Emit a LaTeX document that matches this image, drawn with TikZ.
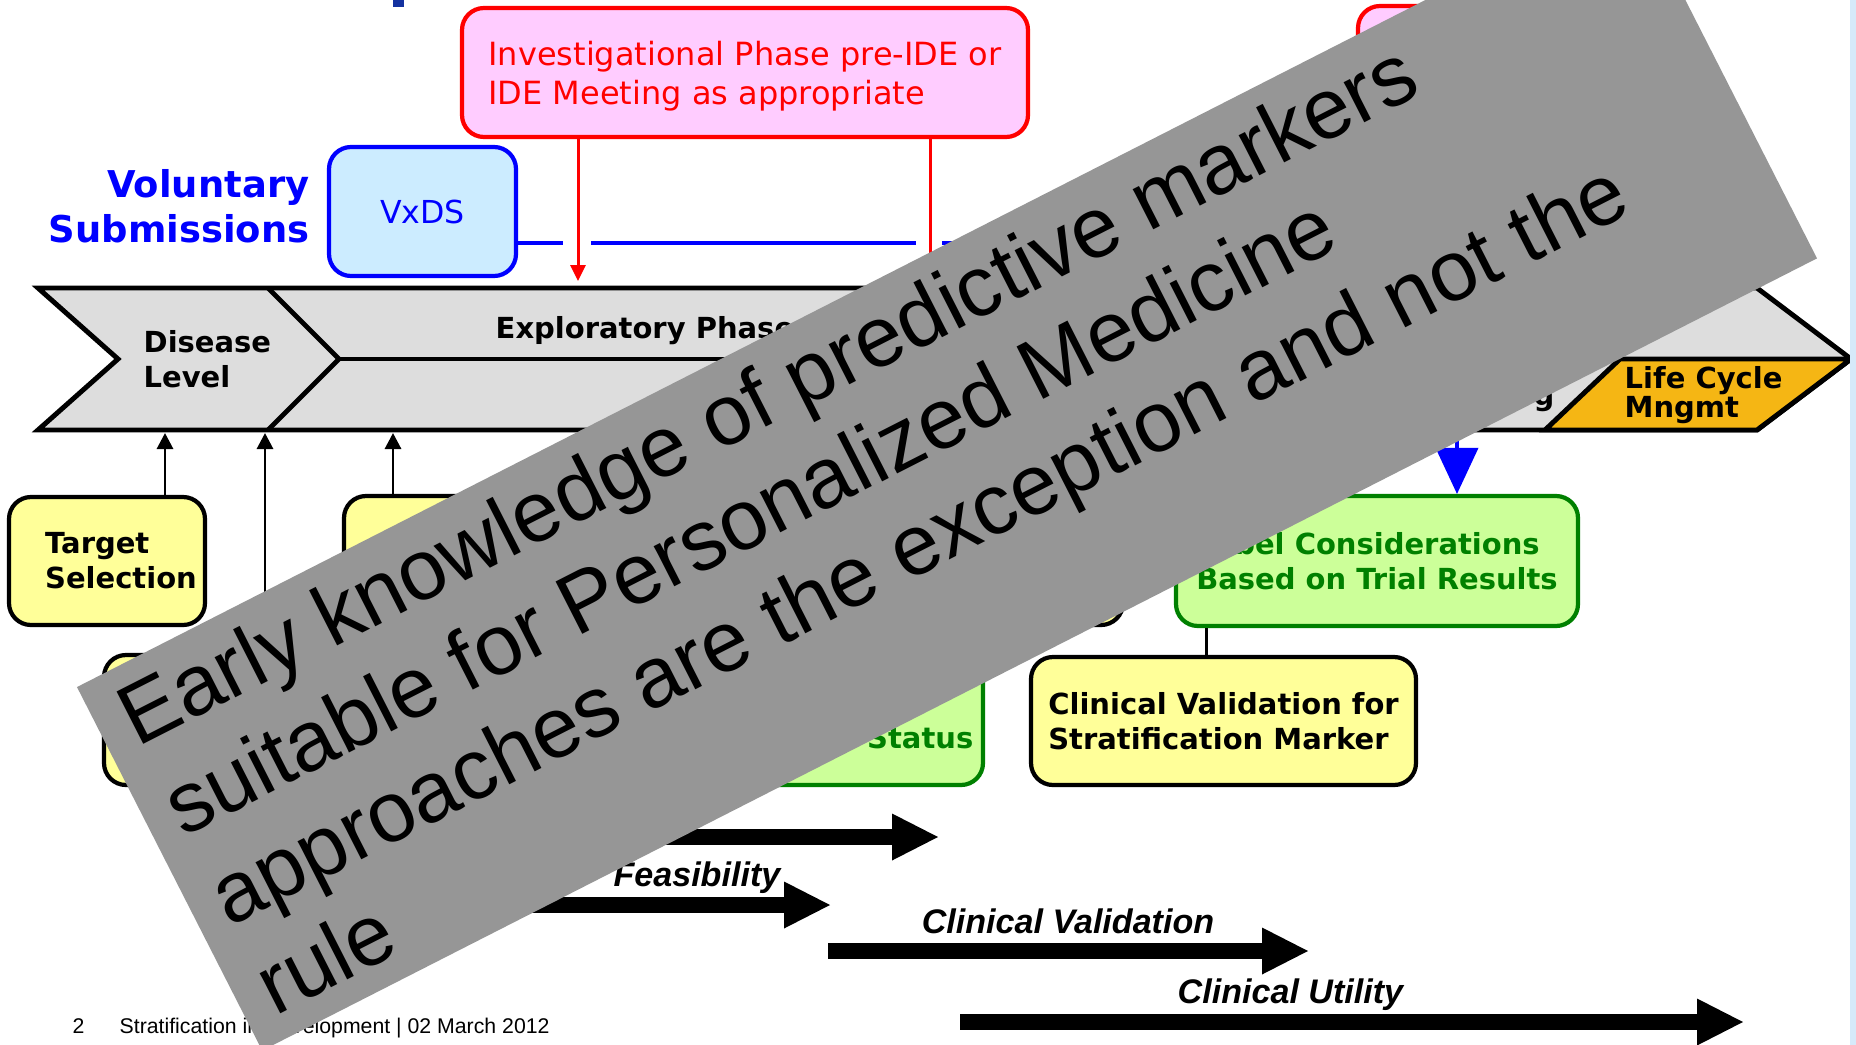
\documentclass[tikz,border=0pt]{standalone}
\usepackage{fontspec}
\setmainfont{DejaVu Sans}
\newfontfamily\arialfont{Liberation Sans}
\usepackage{tikz}
\usetikzlibrary{arrows.meta, positioning, calc}
\definecolor{bandgray}{RGB}{221,221,221}
\definecolor{lifecycle}{RGB}{245,182,20}
\definecolor{noteyellow}{RGB}{255,255,153}
\definecolor{notegreen}{RGB}{204,255,153}
\definecolor{darkgreen}{RGB}{0,128,0}
\definecolor{notepink}{RGB}{255,204,255}
\definecolor{noteblue}{RGB}{204,236,255}
\definecolor{bannergray}{RGB}{150,150,150}
\definecolor{titleblue}{RGB}{20,50,160}
\definecolor{edgeblue}{RGB}{214,234,250}

\begin{document}
\begin{tikzpicture}[
    every node/.style={align=center},
    notebox/.style={draw, rounded corners=0.22cm, line width=1.2pt, inner sep=0pt},
    yellowbox/.style={notebox, fill=noteyellow, font=\bfseries\fontsize{8.25}{9.9}\selectfont},
    greenbox/.style={notebox, draw=darkgreen, fill=notegreen, text=darkgreen, font=\bfseries\fontsize{8.25}{9.9}\selectfont},
    redbox/.style={notebox, draw=red, fill=notepink, text=red, font=\fontsize{9.1}{11.1}\selectfont},
    bandtext/.style={font=\bfseries\fontsize{8.25}{9.9}\selectfont, align=left, inner sep=0pt},
    uparrow/.style={line width=0.85pt, -{Triangle[width=1.6mm, length=1.6mm]}},
    redarrow/.style={red, line width=0.85pt, -{Triangle[width=1.5mm, length=1.6mm]}},
    blockarrow/.style={line width=1.65mm, -{Triangle[width=4.7mm, length=4.6mm, line width=0pt]}},
    phaselabel/.style={font=\arialfont\bfseries\itshape\fontsize{9.7}{11}\selectfont, inner sep=0pt}
]
    \useasboundingbox (0,0) rectangle (18.56,-10.45);
    \clip (0,0) rectangle (18.56,-10.45);

    % Title remnant
    \fill[titleblue] (3.93,0) rectangle (4.04,-0.07);

    % Phase band
    \coordinate (bandtop) at (0,-2.81);
    \coordinate (bandbot) at (0,-4.33);
    \filldraw[fill=bandgray, line width=1.4pt] (0.38,-2.88) -- (17.57,-2.88) -- (18.51,-3.59)
        -- (17.57,-4.30) -- (0.38,-4.30) -- (1.18,-3.59) -- cycle;
    \draw[line width=1.4pt] (2.68,-2.88) -- (3.39,-3.59) -- (2.68,-4.30);
    \draw[line width=1.4pt] (3.39,-3.59) -- (16.20,-3.59);
    \filldraw[fill=lifecycle, line width=1.4pt] (15.45,-4.30) -- (16.20,-3.59) -- (18.51,-3.59) -- (17.57,-4.30) -- cycle;

    \node[bandtext, anchor=west, font=\bfseries\fontsize{8.25}{9.96}\selectfont] (disease) at (1.43,-3.59) {Disease\\Level};
    \node[bandtext, anchor=base west] (explor) at (4.95,-3.38) {Exploratory Phase};
    \node[bandtext, anchor=base east] (marketg) at (15.55,-4.05) {g};
    \node[bandtext, anchor=west, font=\bfseries\fontsize{8.25}{8.25}\selectfont] (lcm) at (16.24,-3.955) {Life Cycle\\Mngmt};

    % Voluntary submissions
    \node[anchor=east, align=right, text=blue, inner sep=0pt, font=\bfseries\fontsize{10.5}{12.8}\selectfont] (volsub) at (3.10,-2.06) {Voluntary\\Submissions};
    \node[notebox, draw=blue, fill=noteblue, text=blue, minimum width=1.87cm, minimum height=1.29cm,
          font=\fontsize{9}{11}\selectfont] (vxds) at (4.225,-2.115) {VxDS};

    % Meetings
    \node[redbox, minimum width=5.66cm, minimum height=1.29cm, align=left] (ipm) at (7.45,-0.725) {\rule{0pt}{0.32cm}Investigational Phase pre-IDE or\\IDE Meeting as appropriate};
    \node[redbox, minimum width=2.82cm, minimum height=1.31cm] (ipm2) at (14.99,-0.715) {};

    % Boxes below the band
    \node[yellowbox, minimum width=1.96cm, minimum height=1.28cm, align=left] (target) at (1.07,-5.61) {\hspace*{0.28cm}Target\\\hspace*{0.28cm}Selection};
    \node[yellowbox, minimum width=2.56cm, minimum height=1.29cm] (yelb) at (4.72,-5.605) {};
    \node[yellowbox, minimum width=4.73cm, minimum height=1.29cm] (yelc) at (8.865,-5.605) {};
    \node[yellowbox, minimum width=3.22cm, minimum height=1.30cm] (yeld) at (2.65,-7.20) {};
    \node[greenbox, minimum width=5.13cm, minimum height=1.30cm] (greens) at (7.265,-7.20) {};
    \node[anchor=base east, inner sep=0pt, text=darkgreen, font=\bfseries\fontsize{8.25}{9.9}\selectfont] (statustxt) at (9.74,-7.48) {Status};
    \node[greenbox, minimum width=4.02cm, minimum height=1.30cm, align=left] (labelbox) at (13.77,-5.61) {Label Considerations\\Based on Trial Results};
    \node[yellowbox, minimum width=3.85cm, minimum height=1.28cm, align=left] (clinval) at (12.235,-7.21) {Clinical Validation for\\Stratification Marker};

    % Arrows into the band
    \draw[uparrow] ([xshift=0.58cm]target.north) -- ([xshift=0.58cm]target.north |- bandbot);
    \draw[uparrow] (yeld.north) -- (yeld.north |- bandbot);
    \draw[uparrow] ([xshift=-0.79cm]yelb.north) -- ([xshift=-0.79cm]yelb.north |- bandbot);
    \draw[redarrow] ([xshift=-1.67cm]ipm.south) -- ([xshift=-1.67cm]ipm.south |- bandtop);
    \draw[redarrow] ([xshift=1.85cm]ipm.south) -- ([xshift=1.85cm]ipm.south |- bandtop);

    % Voluntary submission line
    \coordinate (blv) at (0,-2.43);
    \coordinate (bturn) at (14.57,-2.43);
    \draw[blue, line width=1.4pt] (vxds.east |- blv) -- (5.63,-2.43) (5.91,-2.43) -- (9.16,-2.43) (9.42,-2.43) -- (bturn);
    \draw[blue, line width=1.4pt, -{Triangle[width=4.3mm, length=4.6mm, line width=0pt]}] (bturn) -- (bturn |- labelbox.north);
    \draw[line width=0.85pt] ([xshift=-0.175cm]clinval.north) -- ([xshift=-0.175cm]clinval.north |- labelbox.south);

    % Development streams
    \coordinate (dev1) at (4.00,-8.37);   \coordinate (dev2) at (9.38,-8.37);
    \coordinate (feas1) at (3.30,-9.05);  \coordinate (feas2) at (8.30,-9.05);
    \coordinate (cval1) at (8.28,-9.51);  \coordinate (cval2) at (13.08,-9.51);
    \coordinate (cutil1) at (9.60,-10.22); \coordinate (cutil2) at (17.43,-10.22);
    \foreach \s/\e in {dev1/dev2, feas1/feas2, cval1/cval2, cutil1/cutil2}
        \draw[blockarrow] (\s) -- (\e);
    \node[phaselabel, anchor=base east] (feaslbl) at (7.81,-8.86) {Feasibility};
    \node[phaselabel, anchor=base] (cvallbl) at ($(cval1)!0.5!(cval2)+(0,0.18)$) {Clinical Validation};
    \node[phaselabel, anchor=base west] (cutillbl) at (11.77,-10.03) {Clinical Utility};

    % Footer
    \node[anchor=base west, inner sep=0pt, font=\arialfont\fontsize{6.05}{7}\selectfont] (pgno) at (0.72,-10.33) {2};
    \node[anchor=base west, inner sep=0pt, font=\arialfont\fontsize{6.05}{7}\selectfont] (footer) at (1.19,-10.33) {Stratification in Development | 02 March 2012};

    % Banner
    \begin{scope}[shift={(9.47,-4.727)}, rotate=27]
        \fill[bannergray] (-8.725,-2.04) rectangle (8.725,2.04);
        \foreach \txt [count=\i] in {Early knowledge of predictive markers, suitable for Personalized Medicine,
                                      approaches are the exception and not the, rule}
            \node[anchor=base west, inner sep=0pt, transform shape, font=\arialfont\fontsize{24.3}{28.65}\selectfont]
                (banner\i) at (-8.465, {1.223-(\i-1)*1.007}) {\txt};
    \end{scope}

    \fill[edgeblue] (18.50,0) rectangle (18.56,-10.45);
\end{tikzpicture}
\end{document}
